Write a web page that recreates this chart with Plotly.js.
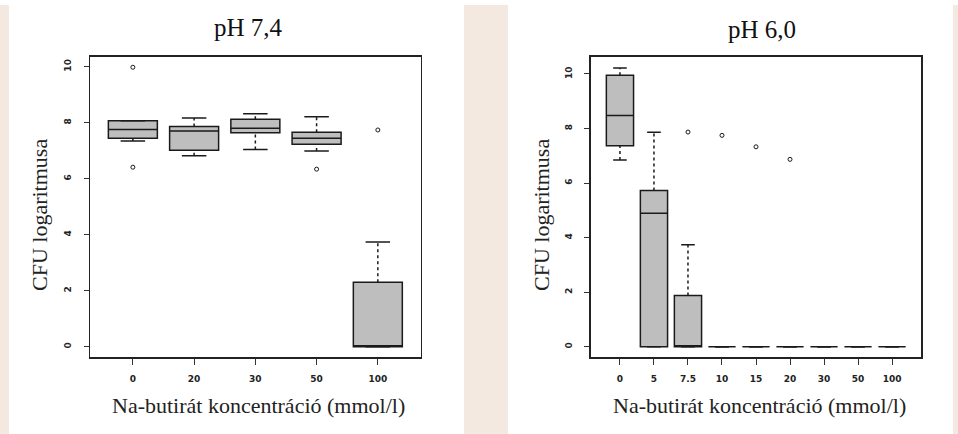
<!DOCTYPE html>
<html>
<head>
<meta charset="utf-8">
<script src="https://cdn.plot.ly/plotly-3.0.1.min.js"></script>
<style>html,body{margin:0;padding:0;background:#fff;}#chart{width:958px;height:434px;}</style>
</head>
<body>
<div id="chart"></div>
<script>
// ---- pH 7,4 panel ----
const catsA = ["0", "20", "30", "50", "100"];
const q1A = [7.44, 7.02, 7.64, 7.23, 0];
const medA = [7.76, 7.70, 7.80, 7.44, 0];
const q3A = [8.07, 7.86, 8.12, 7.66, 2.30];
const loA = [7.35, 6.82, 7.04, 6.99, 0];
const hiA = [8.07, 8.17, 8.32, 8.21, 3.74];
const outCatA = ["0", "0", "50", "100"];
const outValA = [9.98, 6.41, 6.34, 7.74];

// ---- pH 6,0 panel ----
const catsB = ["0", "5", "7.5", "10", "15", "20", "30", "50", "100"];
const q1B = [7.37, 0, 0, 0, 0, 0, 0, 0, 0];
const medB = [8.48, 4.89, 0, 0, 0, 0, 0, 0, 0];
const q3B = [9.95, 5.73, 1.88, 0, 0, 0, 0, 0, 0];
const loB = [6.85, 0, 0, 0, 0, 0, 0, 0, 0];
const hiB = [10.22, 7.86, 3.74, 0, 0, 0, 0, 0, 0];
const outCatB = ["7.5", "10", "15", "20"];
const outValB = [7.87, 7.75, 7.33, 6.87];

const titles = ["pH 7,4", "pH 6,0"];
const yTitle = "CFU logaritmusa";
const xTitle = "Na-butirát koncentráció (mmol/l)";

const BOXW = 0.8, CAPW = 0.4;
const boxFill = "#bebebe", ink = "#1a1a1a";

function panel(cats, q1, med, q3, lo, hi, outCat, outVal, xa, ya) {
  const pos = cats.map((c, i) => i + 1);
  const traces = [];
  traces.push({
    type: "box", xaxis: xa, yaxis: ya, x: pos,
    q1: q1, median: med, q3: q3, lowerfence: q1, upperfence: q3,
    width: BOXW, whiskerwidth: 0, fillcolor: boxFill,
    line: {color: ink, width: 1.5}, boxpoints: false, showlegend: false, hoverinfo: "skip"
  });
  const wx = [], wy = [];
  pos.forEach((p, i) => {
    if (hi[i] > q3[i]) { wx.push(p, p, null); wy.push(q3[i], hi[i], null); }
    if (lo[i] < q1[i]) { wx.push(p, p, null); wy.push(lo[i], q1[i], null); }
  });
  traces.push({type: "scatter", mode: "lines", xaxis: xa, yaxis: ya, x: wx, y: wy,
    line: {color: ink, width: 1.5, dash: "dot"}, showlegend: false, hoverinfo: "skip"});
  const cx = [], cy = [];
  pos.forEach((p, i) => {
    cx.push(p - CAPW / 2, p + CAPW / 2, null); cy.push(hi[i], hi[i], null);
    cx.push(p - CAPW / 2, p + CAPW / 2, null); cy.push(lo[i], lo[i], null);
  });
  traces.push({type: "scatter", mode: "lines", xaxis: xa, yaxis: ya, x: cx, y: cy,
    line: {color: ink, width: 1.5}, showlegend: false, hoverinfo: "skip"});
  traces.push({type: "scatter", mode: "markers", xaxis: xa, yaxis: ya,
    x: outCat.map(c => cats.indexOf(c) + 1), y: outVal,
    marker: {symbol: "circle-open", size: 4, color: ink, line: {width: 1, color: ink}},
    showlegend: false, hoverinfo: "skip"});
  return traces;
}

const data = [].concat(
  panel(catsA, q1A, medA, q3A, loA, hiA, outCatA, outValA, "x", "y"),
  panel(catsB, q1B, medB, q3B, loB, hiB, outCatB, outValB, "x2", "y2")
);

const W = 958, H = 434;
const px = v => v / W, py = v => 1 - v / H;

const tickFont = {family: "DejaVu Sans", size: 9, color: "#222", weight: "bold"};
function xAxis(cats, range, dom, anchor) {
  return {domain: dom, anchor: anchor, range: range, tickmode: "array",
    tickvals: cats.map((c, i) => i + 1), ticktext: cats,
    ticks: "outside", ticklen: 6, tickwidth: 1, tickcolor: "#333",
    ticklabelstandoff: 6, tickfont: tickFont,
    showline: true, mirror: true, linecolor: "#222", linewidth: 1.5,
    showgrid: false, zeroline: false, fixedrange: true};
}
function yAxis(range, anchor) {
  return {domain: [py(357.3), py(56.7)], anchor: anchor, range: range,
    tickmode: "array", tickvals: [0, 2, 4, 6, 8, 10], tickangle: -90,
    ticks: "outside", ticklen: 5, tickwidth: 1, tickcolor: "#333",
    ticklabelstandoff: 9, tickfont: tickFont,
    showline: true, mirror: true, linecolor: "#222", linewidth: 1.5,
    showgrid: false, zeroline: false, fixedrange: true};
}

const serif = "Liberation Serif";
const beige = "#f3e9e1";
const layout = {
  width: W, height: H, margin: {l: 0, r: 0, t: 0, b: 0},
  paper_bgcolor: "#ffffff", plot_bgcolor: "#ffffff", showlegend: false,
  xaxis: xAxis(catsA, [0.3, 5.7], [px(90), px(420.7)], "y"),
  yaxis: yAxis([-0.379, 10.357], "x"),
  xaxis2: xAxis(catsB, [0.14, 9.86], [px(590.7), px(921.3)], "y2"),
  yaxis2: yAxis([-0.389, 10.634], "x2"),
  shapes: [
    {type: "rect", xref: "paper", yref: "paper", x0: 0, x1: px(9), y0: 0, y1: py(5), fillcolor: beige, line: {width: 0}, layer: "below"},
    {type: "rect", xref: "paper", yref: "paper", x0: px(464), x1: px(508), y0: 0, y1: py(5), fillcolor: beige, line: {width: 0}, layer: "below"},
    {type: "rect", xref: "paper", yref: "paper", x0: px(953), x1: 1, y0: 0, y1: py(5), fillcolor: beige, line: {width: 0}, layer: "below"}
  ],
  annotations: [
    {text: titles[0], xref: "paper", yref: "paper", x: px(249), y: py(27), xanchor: "center", yanchor: "middle", showarrow: false, font: {family: serif, size: 25, color: "#111"}},
    {text: titles[1], xref: "paper", yref: "paper", x: px(762), y: py(29.5), xanchor: "center", yanchor: "middle", showarrow: false, font: {family: serif, size: 25, color: "#111"}},
    {text: yTitle, xref: "paper", yref: "paper", x: px(39), y: py(215), xanchor: "center", yanchor: "middle", textangle: -90, showarrow: false, font: {family: serif, size: 22, color: "#222"}},
    {text: yTitle, xref: "paper", yref: "paper", x: px(541), y: py(215), xanchor: "center", yanchor: "middle", textangle: -90, showarrow: false, font: {family: serif, size: 22, color: "#222"}},
    {text: xTitle, xref: "paper", yref: "paper", x: px(258), y: py(405), xanchor: "center", yanchor: "middle", showarrow: false, font: {family: serif, size: 22, color: "#222"}},
    {text: xTitle, xref: "paper", yref: "paper", x: px(759), y: py(405), xanchor: "center", yanchor: "middle", showarrow: false, font: {family: serif, size: 22, color: "#222"}}
  ]
};

Plotly.newPlot("chart", data, layout, {staticPlot: true, displayModeBar: false});
</script>
</body>
</html>
